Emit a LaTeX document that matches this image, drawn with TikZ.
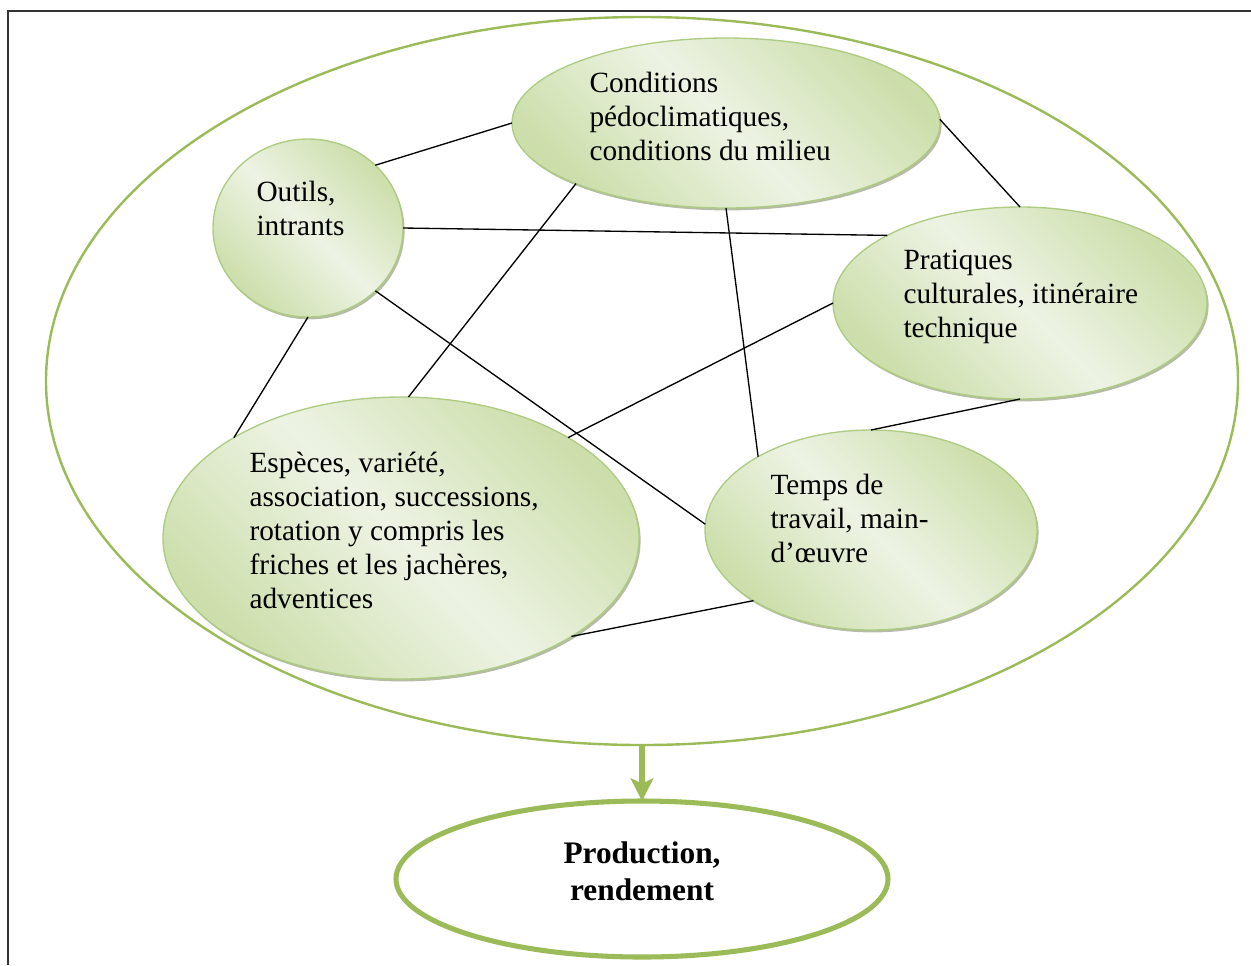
\documentclass[tikz,border=0pt]{standalone}
\usepackage{fontspec}
\setmainfont{Liberation Serif}
\usetikzlibrary{shapes.geometric,arrows.meta,shadows}

\definecolor{vertolive}{RGB}{155,187,89}
\definecolor{vertbord}{RGB}{174,203,130}
\definecolor{vertfonce}{RGB}{204,222,170}
\definecolor{vertclair}{RGB}{237,243,228}
\definecolor{ombre}{RGB}{150,158,128}

\tikzset{every picture/.style={line width=0.75pt},
	facteur/.style={ellipse, draw=vertbord, line width=1pt, inner sep=0pt, outer sep=0pt,
		top color=vertfonce, bottom color=vertfonce, middle color=vertclair, shading angle=-45,
		drop shadow={shadow xshift=1.2pt, shadow yshift=-1.8pt, fill=ombre, opacity=0.7}},
	facteurtxt/.style={anchor=west, align=left, inner sep=0pt, font=\fontsize{22}{25.5}\selectfont},
	lien/.style={draw=black, line width=1pt},
	fleche/.style={draw=vertolive, line width=4.5pt, -{Stealth[length=17pt, width=17pt, inset=4pt]}},
}

\begin{document}
\begin{tikzpicture}[x=0.75pt,y=0.75pt,yscale=-1,xscale=1]
		\useasboundingbox (0,0) rectangle (1251,965);
		
		%Straight Lines: frame
		\draw [black!80, line width=1.2pt] (8,965) -- (8,11) -- (1251,11) ;
		
		%Shape: Ellipse (outer)
		\draw (642,381) node [ellipse, draw=vertolive, line width=1.8pt, inner sep=0pt, outer sep=0pt, minimum width=894pt, minimum height=546pt] (systeme) {};
		
		%Shape: Ellipse
		\draw (308,228) node [facteur, minimum width=142.5pt, minimum height=133.5pt] (outils) {};
		%Shape: Ellipse
		\draw (726,123) node [facteur, minimum width=321pt, minimum height=127.5pt] (conditions) {};
		%Shape: Ellipse
		\draw (1020,303) node [facteur, minimum width=280.5pt, minimum height=144pt] (pratiques) {};
		%Shape: Ellipse
		\draw (401,538) node [facteur, minimum width=357pt, minimum height=211.5pt] (especes) {};
		%Shape: Ellipse
		\draw (871,530) node [facteur, minimum width=249pt, minimum height=150pt] (temps) {};
		
		%Straight Lines
		\draw [lien] (outils.43) -- (conditions.180) ;
		\draw [lien] (outils.0) -- (pratiques.153) ;
		\draw [lien] (outils.270) -- (especes.149) ;
		\draw [lien] (outils.-43) -- (temps.178) ;
		\draw [lien] (conditions.202) -- (especes.87) ;
		\draw [lien] (conditions.270) -- (temps.147) ;
		\draw [lien] (conditions.1) -- (pratiques.90) ;
		\draw [lien] (pratiques.180) -- (especes.31) ;
		\draw [lien] (pratiques.270) -- (temps.90) ;
		\draw [lien] (especes.-30) -- (temps.211) ;
		
		% Text Node
		\draw (256,208) node [facteurtxt] (outilstxt) {Outils,\\intrants};
		% Text Node
		\draw (589,116.5) node [facteurtxt] (conditionstxt) {Conditions\\pédoclimatiques,\\conditions du milieu};
		% Text Node
		\draw (903,296.5) node [facteurtxt] (pratiquestxt) {Pratiques\\culturales, itinéraire\\technique};
		% Text Node
		\draw (249,530.5) node [facteurtxt] (especestxt) {Espèces, variété,\\association, successions,\\rotation y compris les\\friches et les jachères,\\adventices};
		% Text Node
		\draw (770,518.5) node [facteurtxt] (tempstxt) {Temps de\\travail, main-\\d’œuvre};
		
		%Shape: Ellipse (result)
		\draw (642,879) node [ellipse, draw=vertolive, line width=3.8pt, inner sep=0pt, outer sep=0pt, minimum width=369pt, minimum height=117pt] (production) {};
		% Text Node
		\draw (642,871.5) node [align=center, inner sep=0pt, font=\bfseries\fontsize{23.5}{27.5}\selectfont] (productiontxt) {Production,\\rendement};
		
		%Straight Lines: arrow
		\draw [fleche] (systeme.south) -- (production.north) ;
		
\end{tikzpicture}
\end{document}
